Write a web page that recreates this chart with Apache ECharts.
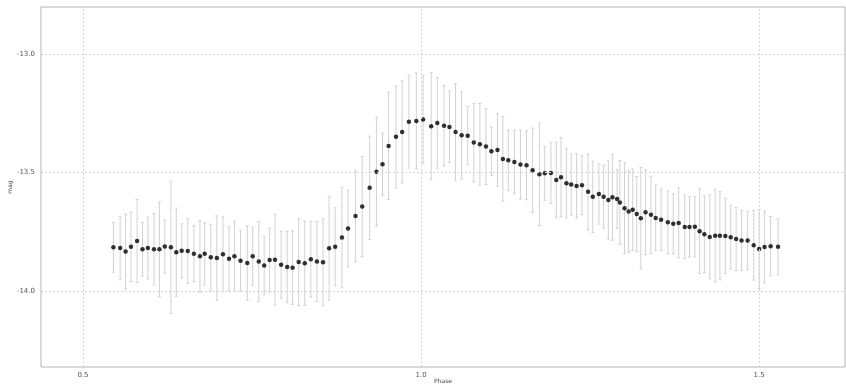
<!DOCTYPE html>
<html>
<head>
<meta charset="utf-8">
<script src="https://cdn.jsdelivr.net/npm/echarts@6/dist/echarts.min.js"></script>
<style>html,body{margin:0;padding:0;background:#fff;}#c{width:846px;height:386px;}</style>
</head>
<body>
<div id="c"></div>
<script>
const phase = [0.545,0.555,0.563,0.571,0.580,0.588,0.596,0.605,0.613,0.621,0.630,0.638,0.646,0.655,0.664,0.673,0.680,0.689,0.698,0.707,0.716,0.724,0.733,0.743,0.751,0.760,0.768,0.776,0.784,0.793,0.802,0.810,0.819,0.828,0.837,0.846,0.855,0.864,0.873,0.883,0.892,0.903,0.913,0.924,0.934,0.943,0.952,0.963,0.972,0.982,0.993,1.003,1.015,1.024,1.034,1.042,1.051,1.060,1.069,1.078,1.087,1.096,1.104,1.113,1.121,1.129,1.138,1.147,1.156,1.165,1.175,1.183,1.192,1.200,1.207,1.215,1.222,1.230,1.238,1.247,1.254,1.263,1.270,1.277,1.283,1.290,1.294,1.301,1.307,1.313,1.319,1.325,1.332,1.340,1.347,1.355,1.365,1.373,1.381,1.390,1.397,1.405,1.412,1.419,1.427,1.435,1.442,1.450,1.458,1.466,1.474,1.483,1.492,1.500,1.508,1.517,1.528];
const mag = [-13.816,-13.819,-13.834,-13.814,-13.789,-13.824,-13.819,-13.824,-13.824,-13.813,-13.816,-13.837,-13.831,-13.832,-13.843,-13.854,-13.843,-13.858,-13.861,-13.845,-13.864,-13.854,-13.873,-13.882,-13.854,-13.876,-13.893,-13.870,-13.868,-13.890,-13.899,-13.902,-13.878,-13.883,-13.866,-13.876,-13.879,-13.820,-13.814,-13.775,-13.737,-13.684,-13.644,-13.565,-13.497,-13.465,-13.388,-13.350,-13.329,-13.286,-13.283,-13.277,-13.305,-13.291,-13.303,-13.308,-13.329,-13.343,-13.345,-13.374,-13.381,-13.391,-13.411,-13.405,-13.443,-13.449,-13.456,-13.467,-13.470,-13.491,-13.508,-13.503,-13.502,-13.532,-13.520,-13.546,-13.551,-13.557,-13.554,-13.582,-13.603,-13.591,-13.603,-13.616,-13.605,-13.612,-13.627,-13.651,-13.665,-13.657,-13.675,-13.693,-13.668,-13.679,-13.692,-13.700,-13.710,-13.717,-13.713,-13.730,-13.730,-13.729,-13.748,-13.761,-13.772,-13.767,-13.767,-13.768,-13.773,-13.781,-13.787,-13.787,-13.807,-13.823,-13.815,-13.811,-13.814];
const err = [0.105,0.134,0.158,0.146,0.175,0.113,0.131,0.150,0.200,0.111,0.279,0.186,0.114,0.136,0.118,0.151,0.131,0.139,0.178,0.158,0.135,0.148,0.127,0.157,0.122,0.169,0.123,0.135,0.192,0.141,0.151,0.155,0.183,0.178,0.160,0.169,0.184,0.219,0.165,0.212,0.162,0.193,0.211,0.218,0.230,0.131,0.226,0.215,0.216,0.196,0.203,0.186,0.226,0.191,0.169,0.151,0.204,0.185,0.123,0.165,0.172,0.160,0.102,0.153,0.179,0.128,0.134,0.146,0.145,0.178,0.216,0.114,0.129,0.159,0.167,0.146,0.129,0.136,0.124,0.160,0.150,0.127,0.133,0.165,0.181,0.125,0.177,0.192,0.172,0.172,0.158,0.214,0.179,0.163,0.139,0.130,0.132,0.126,0.148,0.134,0.127,0.127,0.179,0.162,0.177,0.196,0.186,0.159,0.135,0.133,0.127,0.123,0.147,0.167,0.151,0.125,0.118];
const xTicks = [0.5, 1.0, 1.5];
const yTicks = [-13.0, -13.5, -14.0];

const pts = phase.map((p, i) => [p, mag[i]]);
const bars = phase.map((p, i) => [p, mag[i] - err[i], mag[i] + err[i]]);

const chart = echarts.init(document.getElementById('c'), null, {renderer: 'canvas'});
const gridStyle = {color: '#d4d4d4', type: [2, 2], width: 1};
chart.setOption({
  animation: false,
  backgroundColor: '#fff',
  grid: {left: 41, right: 1, top: 7, bottom: 19, outerBoundsMode: 'none', containLabel: false, show: true, borderColor: '#b4b4b4', borderWidth: 1, backgroundColor: 'transparent'},
  xAxis: {
    type: 'value', min: 0.4379, max: 1.627,
    name: 'Phase', nameLocation: 'middle', nameGap: 11, nameMoveOverlap: false,
    nameTextStyle: {fontSize: 6, color: '#444', fontFamily: 'DejaVu Sans', verticalAlign: 'top'},
    axisLine: {show: false}, axisTick: {show: false}, splitLine: {show: false},
    axisLabel: {customValues: xTicks, formatter: v => v.toFixed(1), fontSize: 7, color: '#555', margin: 5, fontFamily: 'DejaVu Sans'}
  },
  yAxis: {
    type: 'value', min: -14.321, max: -12.802,
    name: 'mag', nameLocation: 'middle', nameGap: 31, nameRotate: 90, nameMoveOverlap: false,
    nameTextStyle: {fontSize: 6, color: '#444', fontFamily: 'DejaVu Sans', verticalAlign: 'middle'},
    axisLine: {show: false}, axisTick: {show: false}, splitLine: {show: false},
    axisLabel: {customValues: yTicks, formatter: v => v.toFixed(1), fontSize: 7, color: '#555', margin: 6, fontFamily: 'DejaVu Sans'}
  },
  series: [
    {
      type: 'custom',
      silent: true,
      data: bars,
      renderItem: function (params, api) {
        const x = api.value(0);
        const lo = api.coord([x, api.value(1)]);
        const hi = api.coord([x, api.value(2)]);
        const cap = 1.5;
        const st = {stroke: '#d2d2d2', lineWidth: 1};
        return {
          type: 'group',
          children: [
            {type: 'line', shape: {x1: lo[0], y1: lo[1], x2: hi[0], y2: hi[1]}, style: st},
            {type: 'line', shape: {x1: lo[0] - cap, y1: lo[1], x2: lo[0] + cap, y2: lo[1]}, style: st},
            {type: 'line', shape: {x1: hi[0] - cap, y1: hi[1], x2: hi[0] + cap, y2: hi[1]}, style: st}
          ]
        };
      },
      markLine: {
        silent: true, symbol: 'none', label: {show: false},
        lineStyle: gridStyle,
        data: xTicks.map(v => ({xAxis: v})).concat(yTicks.map(v => ({yAxis: v})))
      },
      z: 2
    },
    {
      type: 'scatter',
      data: pts,
      symbol: 'circle',
      symbolSize: 4.5,
      itemStyle: {color: '#000'},
      z: 3
    }
  ]
});
</script>
</body>
</html>
